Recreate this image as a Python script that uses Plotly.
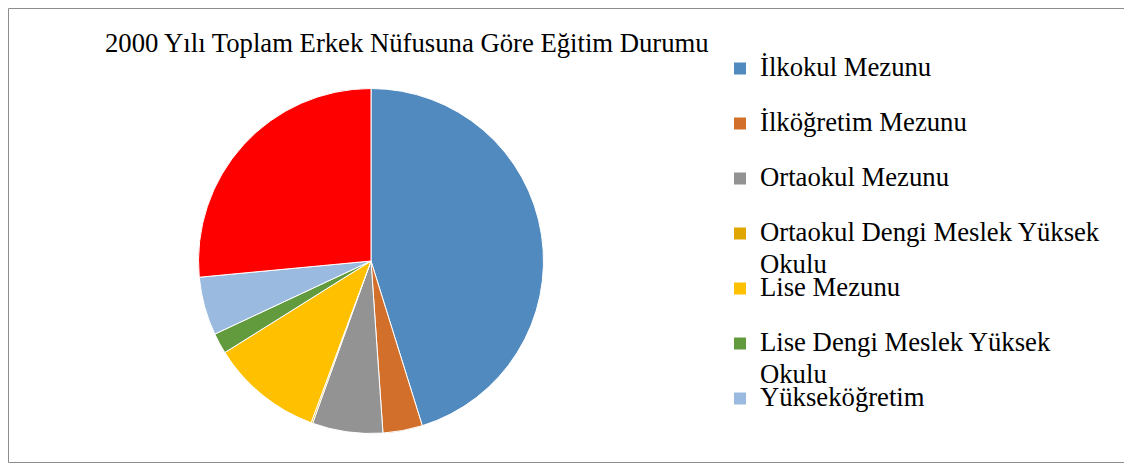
import plotly.graph_objects as go

# ---- data ----
labels = [
    "İlkokul Mezunu",
    "İlköğretim Mezunu",
    "Ortaokul Mezunu",
    "Ortaokul Dengi Meslek Yüksek<br>Okulu",
    "Lise Mezunu",
    "Lise Dengi Meslek Yüksek<br>Okulu",
    "Yükseköğretim",
    "Okuma Yazma Bilmeyen",
]
values = [45.2, 3.7, 6.6, 0.15, 10.45, 1.94, 5.47, 26.5]
colors = ["#518ABE", "#D16F2B", "#939393", "#E0A600", "#FFC000",
          "#629A3E", "#9ABAE0", "#FF0000"]
n_legend = 7  # the reference legend lists only the first seven categories
title_text = "2000 Yılı Toplam Erkek Nüfusuna Göre Eğitim Durumu"

# page has an 8px body margin: work in reference pixels, shift by 8
OFF = 8
W, H = 1132 - OFF, 464 - OFF
FONT = "Liberation Serif, Times New Roman, serif"
TXT = 26.7


def px(x):
    return (x - OFF) / W


def py(y):
    return 1 - (y - OFF) / H


def legend_label(s):
    sp = f"<span style='font-size:{TXT}px'>"
    if "<br>" in s:
        first, second = s.split("<br>", 1)
        return f"{sp}{first}<br><sub>{sp}{second}</span></sub></span>"
    return f"{sp}{s}</span><br> "


# pie geometry (reference pixels)
cx, cy, r = 371, 261, 172.5

legend_pie = go.Pie(
    labels=[legend_label(s) for s in labels[:n_legend]],
    values=values[:n_legend],
    sort=False, direction="clockwise", rotation=0,
    textinfo="none", hoverinfo="skip",
    marker=dict(colors=colors[:n_legend]),
    domain=dict(x=[px(cx - 2), px(cx + 2)], y=[py(cy + 2), py(cy - 2)]),
    showlegend=True,
)

main_pie = go.Pie(
    labels=[legend_label(s) for s in labels],
    values=values,
    sort=False, direction="clockwise", rotation=0,
    textinfo="none",
    hovertext=[s.replace("<br>", " ") for s in labels],
    hovertemplate="%{hovertext}: %{value}<extra></extra>",
    marker=dict(colors=colors, line=dict(color="white", width=1)),
    domain=dict(x=[px(cx - r), px(cx + r)], y=[py(cy + r), py(cy - r)]),
    showlegend=False,
)

fig = go.Figure([legend_pie, main_pie])

fig.update_layout(
    width=W, height=H,
    margin=dict(l=0, r=0, t=0, b=0, autoexpand=False),
    paper_bgcolor="white",
    plot_bgcolor="white",
    font=dict(family=FONT, color="black", size=20),
    legend=dict(
        x=px(720), y=py(49), xanchor="left", yanchor="top",
        valign="top",
        font=dict(family=FONT, size=20, color="black"),
        bgcolor="rgba(0,0,0,0)",
    ),
    annotations=[dict(
        text=title_text, x=px(406.5), y=py(42.7),
        xref="paper", yref="paper", xanchor="center", yanchor="middle",
        showarrow=False, font=dict(family=FONT, size=TXT, color="black"),
    )],
    shapes=[dict(
        type="rect", xref="paper", yref="paper",
        x0=px(8.5), x1=px(1130.5), y0=py(462.5), y1=py(8.5),
        line=dict(color="#8C8C8C", width=1), fillcolor="rgba(0,0,0,0)",
        layer="below",
    )],
)

fig.write_html("out.html")
